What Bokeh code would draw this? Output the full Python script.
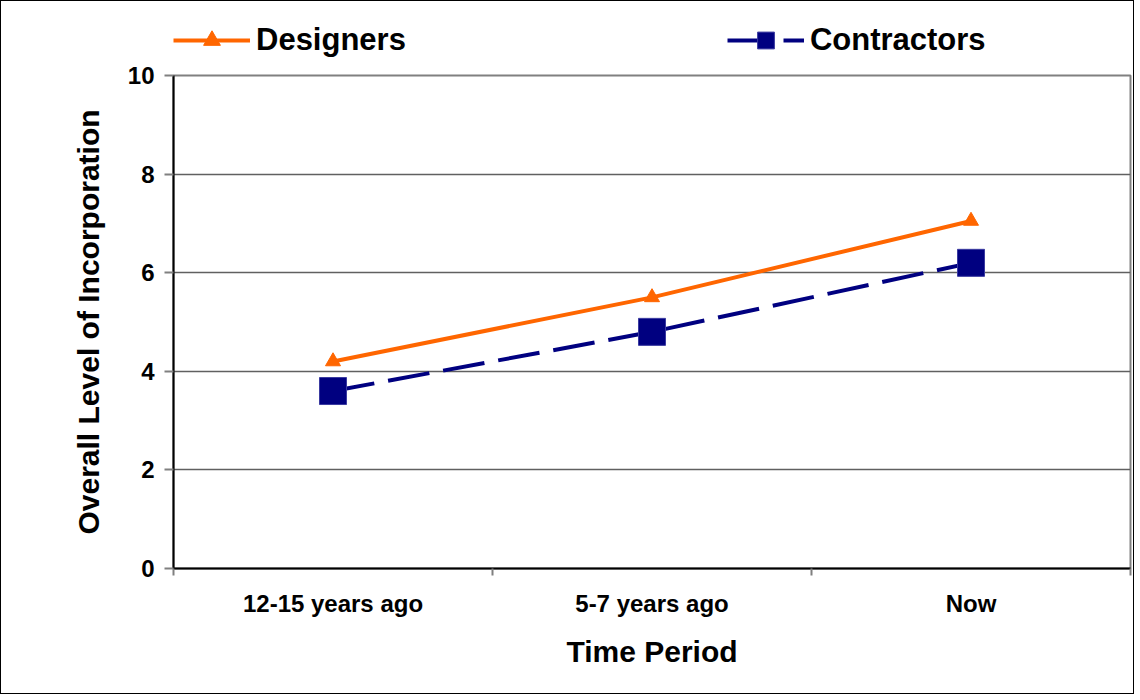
from bokeh.plotting import figure
from bokeh.models import (Range1d, FixedTicker, Legend, LegendItem, ColumnDataSource)
from bokeh.layouts import column
from bokeh.embed import file_html
from bokeh.resources import INLINE

categories = ["12-15 years ago", "5-7 years ago", "Now"]
designers = [4.2, 5.5, 7.05]
contractors = [3.6, 4.8, 6.2]
y_ticks = [0, 2, 4, 6, 8, 10]

FONT = "Liberation Sans"
ORANGE = "#FF6600"
NAVY = "#000080"

xs = [i + 0.5 for i in range(len(categories))]
src = ColumnDataSource(dict(x=xs, d=designers, c=contractors))


def add_series(fig):
    l1 = fig.line("x", "d", source=src, line_color=ORANGE, line_width=4)
    m1 = fig.scatter("x", "d", source=src, marker="triangle", size=15, color=ORANGE)
    l2 = fig.line("x", "c", source=src, line_color=NAVY, line_width=4, line_dash="42 14")
    m2 = fig.scatter("x", "c", source=src, marker="square", size=27, fill_color=NAVY,
                     line_color="#3a3aa0", line_width=1)
    return l1, m1, l2, m2


# ---- legend strip (top) ----
lg = figure(width=1132, height=60, output_backend="svg", toolbar_location=None,
            x_range=Range1d(100, 101), y_range=Range1d(100, 101), min_border=0)
lg.axis.visible = False
lg.grid.visible = False
lg.outline_line_color = None
ll1, lm1, ll2, lm2 = add_series(lg)
legend = Legend(items=[LegendItem(label="Designers", renderers=[ll1, lm1]),
                       LegendItem(label="Contractors", renderers=[ll2, lm2])],
                location=(0, 0), orientation="horizontal", spacing=321,
                glyph_width=77, glyph_height=42, label_standoff=6,
                label_text_font=FONT, label_text_font_style="bold", label_text_font_size="31px",
                label_text_color="black",
                border_line_color=None, background_fill_alpha=0, padding=0, margin=0)
lg.add_layout(legend, "center")

# ---- main chart ----
p = figure(width=1132, height=632, output_backend="svg", toolbar_location=None,
           x_range=Range1d(0, len(categories)), y_range=Range1d(0, 10),
           min_border_left=172, min_border_right=3, min_border_top=14, min_border_bottom=125)
p.outline_line_color = "#808080"
p.outline_line_width = 2
add_series(p)

# x axis
p.xaxis.ticker = FixedTicker(ticks=xs, minor_ticks=list(range(len(categories) + 1)))
p.xaxis.major_label_overrides = {x: c for x, c in zip(xs, categories)}
p.xaxis.major_tick_out = 0
p.xaxis.major_tick_in = 0
p.xaxis.minor_tick_out = 7
p.xaxis.minor_tick_in = 0
p.xaxis.minor_tick_line_color = "#808080"
p.xaxis.minor_tick_line_width = 2
p.xaxis.axis_line_color = "black"
p.xaxis.axis_line_width = 2
p.xaxis.major_label_standoff = 14
p.xaxis.major_label_text_font = FONT
p.xaxis.major_label_text_font_style = "bold"
p.xaxis.major_label_text_font_size = "24px"
p.xaxis.major_label_text_color = "black"
p.xaxis.axis_label = "Time Period"
p.xaxis.axis_label_text_font = FONT
p.xaxis.axis_label_text_font_style = "bold"
p.xaxis.axis_label_text_font_size = "30px"
p.xaxis.axis_label_text_color = "black"
p.xaxis.axis_label_standoff = 15
p.xgrid.visible = False

# y axis
p.yaxis.ticker = FixedTicker(ticks=y_ticks, minor_ticks=[])
p.yaxis.major_tick_out = 9
p.yaxis.major_tick_in = 0
p.yaxis.major_tick_line_color = "#808080"
p.yaxis.major_tick_line_width = 2
p.yaxis.axis_line_color = "black"
p.yaxis.axis_line_width = 2
p.yaxis.major_label_standoff = 10
p.yaxis.major_label_text_font = FONT
p.yaxis.major_label_text_font_style = "bold"
p.yaxis.major_label_text_font_size = "24px"
p.yaxis.major_label_text_color = "black"
p.yaxis.axis_label = "Overall Level of Incorporation"
p.yaxis.axis_label_text_font = FONT
p.yaxis.axis_label_text_font_style = "bold"
p.yaxis.axis_label_text_font_size = "30px"
p.yaxis.axis_label_text_color = "black"
p.yaxis.axis_label_standoff = 20
p.ygrid.ticker = FixedTicker(ticks=y_ticks)
p.ygrid.grid_line_color = "#606060"
p.ygrid.grid_line_width = 1.5

layout = column(lg, p, spacing=0)
layout.styles = {"border": "1.5px solid black"}

open("out.html", "w").write(file_html(layout, INLINE))
